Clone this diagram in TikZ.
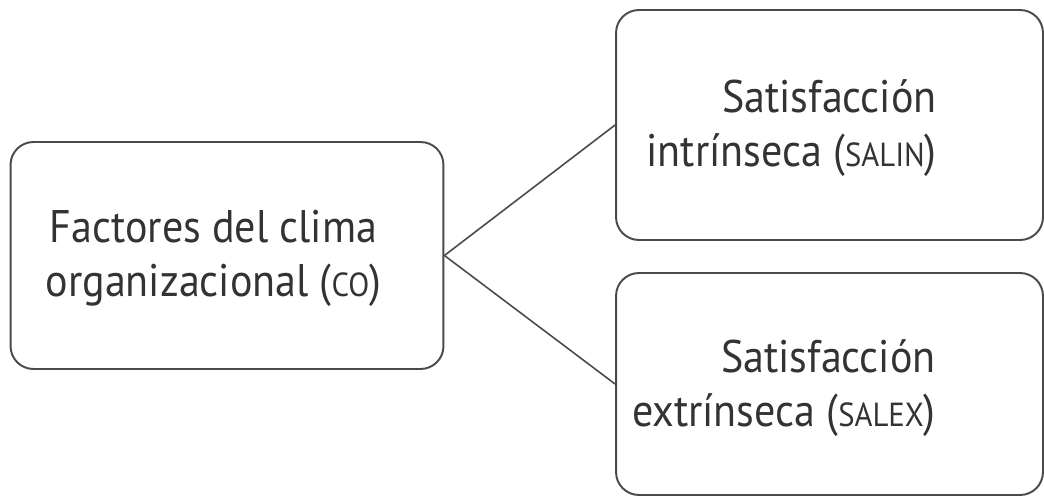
\documentclass[tikz,border=0pt]{standalone}
\usepackage{fontspec}
\setmainfont[FakeStretch=0.92]{PT Sans}
\usepackage{tikz}
\usetikzlibrary{
  positioning,
  calc
}
\definecolor{clBorde}{HTML}{4A4A4A}
\definecolor{clTexto}{HTML}{333333}
\newcommand{\sigla}[1]{{\fontsize{19}{19}\selectfont #1}}
\tikzset{
  caja/.style={
    draw=clBorde, rounded corners=13pt, line width=1.1pt, fill=white,
    minimum width=8.54cm, minimum height=4.6cm, inner sep=0pt
  },
  texto/.style={
    font=\fontsize{26}{30.7}\selectfont, text=clTexto, inner sep=0pt
  },
  enlace/.style={line width=0.9pt, clBorde}
}

\begin{document}
\begin{tikzpicture}[x=0.02cm, y=-0.02cm]
  \useasboundingbox (0,0) rectangle (1044,497);
  % cajas
  \node[caja, minimum width=8.66cm, minimum height=4.54cm] (co) at (227,255.5) {};
  \node[caja] (salin) at (829.5,125) {};
  \node[caja, minimum height=4.44cm] (salex) at (829.5,384) {};
  % textos
  \node[texto, align=center] (co-txt) at (213.5,258)
    {Factores del clima\\organizacional (\sigla{CO})};
  \node[texto, align=right, anchor=east] (salin-txt) at (937,128)
    {Satisfacción\\intrínseca (\sigla{SALIN})};
  \node[texto, align=right, anchor=east] (salex-txt) at (936,388)
    {Satisfacción\\extrínseca (\sigla{SALEX})};
  % enlaces
  \draw[enlace] (co.east) -- (salin.west);
  \draw[enlace] (co.east) -- (salex.west);
\end{tikzpicture}
\end{document}
